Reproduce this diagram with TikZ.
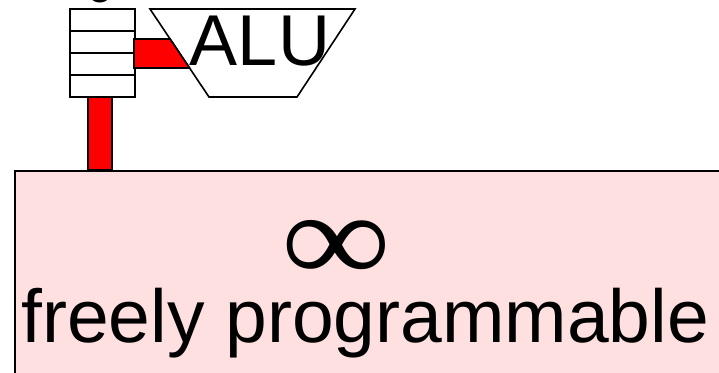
\documentclass[tikz,border=0pt]{standalone}
\usepackage{fontspec}
\setmainfont{Liberation Sans}
\newfontfamily\inffont{Liberation Serif}
\definecolor{boxpink}{HTML}{FFE0E1}
\definecolor{busred}{HTML}{FF0000}
\begin{document}
\begin{tikzpicture}[x=1pt,y=-1pt,
  outline/.style={draw=black,line width=1.6pt,line join=miter},
  busfill/.style={outline,fill=busred},
  bigtext/.style={inner sep=0pt,font=\fontsize{75}{80}\selectfont}]
\useasboundingbox (0,0) rectangle (719,372);
\clip (0,0) rectangle (719,372);
% big box
\node[outline,fill=boxpink,minimum width=740pt,minimum height=230pt,anchor=north west,inner sep=0pt] (box) at (14,170) {};
\node[inner sep=0pt,font=\inffont\fontsize{154}{154}\selectfont] (inf) at (336,251) {\scalebox{1}[0.84]{∞}};
\node[bigtext,anchor=base west] (free) at (21,342) {freely programmable};
% vertical bus
\draw[busfill] (88,97) rectangle (112,170);
% register stack
\node[outline,fill=white,minimum width=65pt,minimum height=88pt,inner sep=0pt] (reg) at (102.5,53) {};
\foreach \yy in {31,53,75} \draw[outline] (70,\yy) -- (135,\yy);
\node[inner sep=0pt,anchor=south,font=\fontsize{46}{46}\selectfont] (top) at (100,3) {o};
% ALU
\coordinate (atl) at (150,9);
\coordinate (atr) at (355,9);
\coordinate (abr) at (297,97);
\coordinate (abl) at (209,97);
\draw[outline,fill=white] (atl) -- (atr) -- (abr) -- (abl) -- cycle;
% horizontal bus
\draw[busfill] (134,39) -- (170.1,39) -- (189.6,68) -- (134,68) -- cycle;
\node[inner sep=0pt,anchor=base,font=\fontsize{72}{72}\selectfont] (alu) at (260,65) {ALU};
\end{tikzpicture}
\end{document}
